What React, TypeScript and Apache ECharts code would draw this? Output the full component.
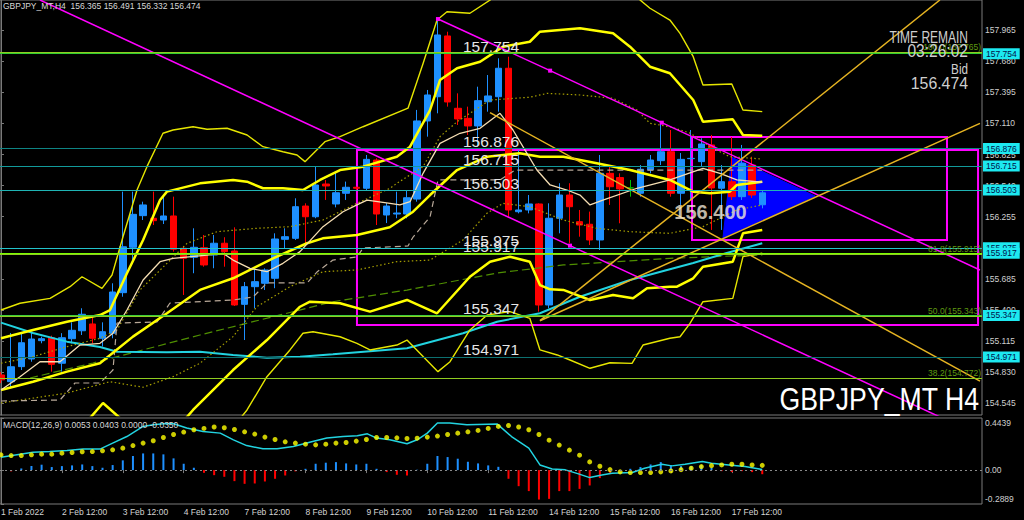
import { useEffect, useRef } from 'react';
import * as echarts from 'echarts';

// ---------------- DATA ----------------
const symbolName = 'GBPJPY_MT';
const timeframe = 'H4';

// H4 candles, bar 0 = 1 Feb 12:00 ... [open, close, low, high]
const candles: number[][] = [
  [154.805, 154.760, 154.730, 154.830],
  [154.743, 154.880, 154.694, 155.189],
  [154.881, 155.100, 154.850, 155.192],
  [154.951, 155.134, 154.926, 155.201],
  [155.119, 155.137, 155.095, 155.155],
  [155.146, 154.902, 154.835, 155.165],
  [154.912, 155.146, 154.835, 155.188],
  [155.137, 155.214, 155.095, 155.287],
  [155.210, 155.361, 155.171, 155.416],
  [155.272, 155.141, 155.095, 155.348],
  [155.141, 155.201, 155.065, 155.287],
  [155.187, 155.565, 155.141, 155.645],
  [155.559, 155.980, 155.522, 156.485],
  [155.975, 156.277, 155.858, 156.485],
  [156.265, 156.363, 156.225, 156.393],
  [156.241, 156.219, 156.179, 156.485],
  [156.225, 156.262, 156.188, 156.439],
  [156.262, 155.957, 155.935, 156.439],
  [155.966, 155.874, 155.538, 155.987],
  [155.883, 155.975, 155.737, 156.149],
  [155.971, 155.813, 155.797, 156.088],
  [155.904, 156.012, 155.783, 156.088],
  [156.012, 155.935, 155.797, 156.067],
  [155.941, 155.446, 155.437, 156.158],
  [155.452, 155.614, 155.125, 155.657],
  [155.614, 155.660, 155.416, 155.767],
  [155.645, 155.767, 155.584, 155.782],
  [155.691, 156.051, 155.600, 156.103],
  [156.048, 156.072, 155.966, 156.149],
  [156.057, 156.347, 156.042, 156.424],
  [156.353, 156.255, 156.012, 156.378],
  [156.255, 156.546, 156.241, 156.714],
  [156.555, 156.537, 156.409, 156.592],
  [156.372, 156.475, 156.341, 156.668],
  [156.470, 156.525, 156.409, 156.577],
  [156.525, 156.516, 156.500, 156.530],
  [156.516, 156.781, 156.500, 156.821],
  [156.775, 156.280, 156.179, 156.791],
  [156.271, 156.353, 156.197, 156.380],
  [156.280, 156.289, 156.241, 156.485],
  [156.280, 156.429, 156.241, 156.500],
  [156.417, 157.133, 156.393, 157.234],
  [157.133, 157.371, 156.989, 157.417],
  [157.355, 157.921, 157.203, 158.065],
  [157.912, 157.307, 157.264, 157.951],
  [157.249, 157.151, 157.096, 157.386],
  [157.157, 157.087, 157.004, 157.264],
  [157.087, 157.319, 156.897, 157.447],
  [157.309, 157.362, 157.218, 157.554],
  [157.355, 157.616, 157.218, 157.707],
  [157.616, 156.317, 156.255, 157.722],
  [156.301, 156.317, 156.286, 156.867],
  [156.317, 156.372, 156.286, 156.454],
  [156.372, 155.446, 155.385, 156.378],
  [155.446, 156.241, 155.416, 156.378],
  [156.241, 156.454, 156.103, 156.562],
  [156.454, 156.347, 156.012, 156.562],
  [156.210, 156.179, 156.072, 156.317],
  [156.186, 156.042, 155.996, 156.302],
  [156.042, 156.653, 155.950, 156.821],
  [156.653, 156.530, 156.363, 156.714],
  [156.614, 156.510, 156.195, 156.653],
  [156.519, 156.519, 156.439, 156.592],
  [156.470, 156.690, 156.439, 156.729],
  [156.684, 156.775, 156.653, 156.821],
  [156.769, 156.851, 156.729, 157.124],
  [156.851, 156.470, 156.439, 157.050],
  [156.470, 156.781, 156.363, 156.839],
  [156.787, 156.790, 156.409, 157.050],
  [156.760, 156.922, 156.714, 156.974],
  [156.913, 156.519, 156.134, 157.005],
  [156.516, 156.576, 156.134, 156.729],
  [156.576, 156.439, 156.409, 156.986],
  [156.439, 156.745, 156.409, 156.913],
  [156.729, 156.454, 156.427, 156.805],
  [156.365, 156.474, 156.332, 156.491],
];

// indicator lines: [bar, price]
const bbUpperThin = [[0, 155.400], [1.87, 155.462], [4.83, 155.507], [6.8, 155.614], [7.98, 155.705], [9.95, 155.599], [10.94, 155.721], [12.02, 156.072], [13.4, 156.500], [14.38, 156.714], [15.96, 157.020], [16.95, 157.050], [18.92, 157.080], [20.3, 157.057], [22.27, 157.066], [24.24, 157.004], [25.81, 156.897], [27.78, 156.851], [29.16, 156.821], [29.95, 156.760], [31.92, 156.943], [33.4, 156.989], [35.67, 157.080], [40.1, 157.250], [41.6, 157.664], [42.96, 158.058], [43.94, 158.134], [46.2, 158.120], [48.2, 158.242], [52.1, 158.608], [60, 158.608], [62.96, 158.242], [63.94, 158.166], [65.9, 158.058], [66.9, 157.936], [68.2, 157.722], [69.16, 157.463], [72, 157.472], [73.1, 157.233], [75, 157.218]];
const bbUpperThick = [[0, 155.141], [3.15, 155.217], [6.5, 155.293], [9.75, 155.354], [10.74, 155.400], [12.41, 155.737], [14, 156.042], [15.67, 156.408], [16.35, 156.485], [19.6, 156.561], [22.86, 156.592], [24.24, 156.576], [25.81, 156.516], [27.78, 156.516], [29.75, 156.500], [31.43, 156.592], [33.4, 156.683], [35.67, 156.714], [39, 156.805], [40.3, 156.897], [42.27, 157.233], [43.25, 157.508], [44.93, 157.616], [47.2, 157.676], [49.46, 157.814], [52.1, 157.859], [53.1, 157.951], [57.04, 157.982], [60.3, 157.936], [61.97, 157.814], [63.94, 157.630], [65.9, 157.570], [68.2, 157.325], [69.16, 157.126], [72.1, 157.148], [73.1, 157.004], [75, 156.998]];
const bbMiddle = [[0, 154.667], [3.15, 154.743], [6.5, 154.835], [9.75, 154.912], [13, 155.156], [16.35, 155.370], [19.6, 155.584], [22.86, 155.691], [26.8, 155.874], [30.15, 156.012], [31.7, 156.057], [35.07, 156.088], [38.3, 156.158], [40.6, 156.301], [42.27, 156.454], [44.93, 156.683], [47.9, 156.805], [51.1, 156.836], [53.1, 156.805], [55.4, 156.805], [58.7, 156.745], [61.97, 156.683], [65.9, 156.592], [68.2, 156.485], [69.85, 156.470], [71.8, 156.485], [72.5, 156.546], [75, 156.576]];
const bbLowerThick = [[0, 154.209], [8.77, 154.410], [10.05, 154.548], [11.72, 154.410], [17.64, 154.346], [18.92, 154.484], [22.86, 154.850], [26.2, 155.125], [29.46, 155.430], [30.44, 155.476], [33.4, 155.462], [36.35, 155.385], [40, 155.492], [42.96, 155.370], [46.2, 155.705], [48.18, 155.843], [50.15, 155.889], [52.1, 155.843], [53.1, 155.629], [54.1, 155.590], [55.4, 155.584], [58.03, 155.492], [60.3, 155.538], [62.27, 155.507], [63.65, 155.599], [65.9, 155.614], [66.6, 155.614], [68.2, 155.691], [69.16, 155.797], [72.1, 155.843], [73.1, 156.103], [75, 156.133]];
const bbLowerThin = [[0, 153.934], [19.6, 154.025], [23.05, 154.346], [24.24, 154.484], [26.2, 154.789], [28.47, 155.034], [29.75, 155.187], [30.74, 155.201], [33.4, 155.155], [35.07, 155.095], [36.35, 155.034], [39, 155.079], [40, 155.125], [43.05, 154.835], [44.24, 154.926], [46.2, 155.217], [47.9, 155.354], [50.15, 155.385], [52.1, 155.324], [53.1, 155.034], [54.8, 154.988], [56.06, 154.942], [58.03, 154.866], [60, 154.917], [62.17, 154.911], [63.25, 155.079], [65.9, 155.141], [66.9, 155.155], [67.88, 155.278], [69.16, 155.476], [72.1, 155.507], [73.1, 155.889], [75, 155.920]];
const maWheat = [[0, 154.667], [1.87, 154.789], [3.84, 154.926], [5.81, 154.926], [7.78, 155.079], [9.75, 155.095], [11.03, 155.187], [12.41, 155.400], [14, 155.675], [15.67, 155.843], [16.95, 155.874], [20.3, 155.904], [21.87, 155.920], [22.86, 155.858], [24.53, 155.782], [26.2, 155.751], [27.78, 155.828], [29.46, 155.935], [31.72, 156.164], [33.7, 156.301], [35.07, 156.363], [36.06, 156.408], [38.33, 156.378], [39.3, 156.363], [40.3, 156.393], [41.58, 156.653], [43.25, 156.928], [45.22, 157.020], [47.2, 157.066], [49.16, 157.203], [50.44, 157.050], [51.82, 156.836], [52.8, 156.683], [54.1, 156.546], [55.76, 156.500], [57.04, 156.454], [58.03, 156.363], [59.3, 156.408], [62.66, 156.516], [65.9, 156.592], [69.16, 156.699], [70.84, 156.653], [72.5, 156.592], [75, 156.571]];
const dottedUpper = [[0, 154.912], [3.15, 154.972], [6.5, 155.064], [9.75, 155.141], [11.43, 155.217], [13.7, 155.584], [16.35, 155.828], [18.33, 156.011], [21.28, 156.118], [25.2, 156.149], [28.47, 156.164], [31.72, 156.225], [35.07, 156.378], [38.33, 156.516], [39, 156.561], [41.58, 156.714], [43.25, 156.989], [44.93, 157.126], [48.18, 157.325], [52.1, 157.350], [53.8, 157.386], [57.04, 157.371], [60.3, 157.341], [62.66, 157.233], [63.94, 157.111], [65.9, 157.080], [67.88, 157.022], [69.85, 156.897], [71.8, 156.805], [75, 156.784]];
const dottedLower = [[0, 154.548], [6.5, 154.639], [10.74, 154.743], [14, 154.692], [16.95, 154.789], [19.6, 154.912], [22.86, 155.156], [25.2, 155.430], [28.47, 155.614], [31.72, 155.751], [35.07, 155.767], [39, 155.843], [42.27, 155.858], [45.52, 156.042], [47.88, 156.287], [49.46, 156.378], [52.1, 156.347], [55.4, 156.225], [58.7, 156.149], [61.97, 156.118], [65.9, 156.103], [69.16, 156.164], [70.84, 156.241], [72.5, 156.317], [75, 156.363]];
const kijunDashed = [[0, 154.566], [5.81, 154.575], [7.29, 154.731], [9.75, 154.731], [11.03, 154.850], [11.43, 155.281], [15.37, 155.290], [16.65, 155.464], [22.86, 155.492], [24.83, 155.519], [26.2, 155.648], [30.15, 155.648], [31.13, 155.748], [32.7, 155.858], [35.07, 155.886], [35.67, 155.968], [40.1, 155.987], [40.6, 156.069], [42.27, 156.253], [43.05, 156.592], [49.16, 156.592], [50.64, 156.683], [75, 156.683]];
const maCyan = [[0, 155.284], [3.15, 155.189], [6.5, 155.110], [9.75, 155.061], [11.43, 155.018], [16.35, 155.012], [19.6, 155.018], [22.86, 154.988], [26.2, 154.963], [29.46, 154.972], [32.7, 154.994], [40, 155.049], [45.52, 155.187], [48.87, 155.293], [53.1, 155.370], [57.04, 155.522], [61.97, 155.675], [65.9, 155.773], [68.2, 155.831], [71.5, 155.923], [75, 156.012]];
const maGreenDashed = [[2.86, 154.777], [9.06, 154.914], [19.6, 155.171], [32.7, 155.476], [40, 155.583], [48.87, 155.739], [55.4, 155.813], [65.9, 155.874], [72, 155.895], [75, 155.904]];

// trend lines & objects: [bar, price]
const trendM1 = [[3.84, 158.2416], [56.06, 155.990], [92.5, 154.420]];
const trendM1Handles = [false, true, false];
const trendM2 = [[43.05, 158.067], [54.1, 157.594], [65.1, 157.117], [96.45, 155.767]];
const trendM2Handles = [true, true, true, false];
const trendO1 = [[48.18, 157.209], [96.45, 154.749]];
const trendO2 = [[53.1, 155.302], [92.5, 158.2416]];
const trendO3 = [[53.1, 155.302], [96.45, 157.111]];
const triangle = [[72.0, 156.800], [80.2, 156.445], [71.13, 156.060]];
const rectA = [[35.07, 156.867], [96.26, 155.263]];
const rectB = [[68.08, 156.986], [93.2, 156.042]];
const textMarkValue = '156.400';
const textMarkAnchor = [69.9, 156.300];

// horizontal levels
const levelPrices = [157.754, 156.876, 156.715, 156.503, 155.975, 155.917, 155.347, 154.971];
const fibLevels = [100.0, 61.8, 50.0, 38.2];
const fibPrices = [157.765, 155.915, 155.343, 154.772];

// axes
const priceTicks = [154.545, 154.830, 155.115, 155.400, 155.685, 155.970, 156.255, 156.540, 156.825, 157.110, 157.395, 157.680, 157.965];
const dateTickBars = [0, 6, 12, 18, 24, 30, 36, 42, 48, 54, 60, 66, 72];
const dateTickLabels = ['1 Feb 2022', '2 Feb 12:00', '3 Feb 12:00', '4 Feb 12:00', '7 Feb 12:00', '8 Feb 12:00', '9 Feb 12:00', '10 Feb 12:00', '11 Feb 12:00', '14 Feb 12:00', '15 Feb 12:00', '16 Feb 12:00', '17 Feb 12:00'];
const macdTicks = [0.4439, 0, -0.2889];
const macdTickLabels = ['0.4439', '0.00', '-0.2889'];

// MACD
const macdHist = [0, -0.011, 0.014, 0.034, 0.046, 0.026, 0.034, 0.040, 0.048, 0.034,
  0.020, 0.043, 0.083, 0.120, 0.142, 0.142, 0.134, 0.100, 0.054, 0.020,
  -0.023, -0.043, -0.057, -0.094, -0.117, -0.114, -0.097, -0.074, -0.046, -0.011,
  0.011, 0.054, 0.063, 0.068, 0.057, 0.048, 0.054, 0.011, -0.017, -0.040,
  -0.046, 0.003, 0.054, 0.120, 0.111, 0.097, 0.071, 0.057, 0.040, 0.028,
  -0.074, -0.137, -0.179, -0.251, -0.245, -0.179, -0.179, -0.160, -0.131, -0.068,
  -0.023, -0.009, 0.011, 0.026, 0.048, 0.068, 0.043, 0.034, 0.034, 0.043,
  0.020, -0.009, -0.017, -0.009, -0.017, -0.035];
const macdSignal = [0.130, 0.124, 0.124, 0.130, 0.136, 0.136, 0.144, 0.150, 0.156, 0.158,
  0.164, 0.173, 0.187, 0.209, 0.230, 0.250, 0.278, 0.303, 0.324, 0.344,
  0.355, 0.367, 0.361, 0.346, 0.326, 0.307, 0.281, 0.261, 0.241, 0.230,
  0.221, 0.215, 0.221, 0.230, 0.235, 0.247, 0.261, 0.278, 0.278, 0.275,
  0.269, 0.272, 0.281, 0.290, 0.303, 0.315, 0.326, 0.338, 0.355, 0.372,
  0.380, 0.367, 0.344, 0.303, 0.255, 0.213, 0.170, 0.127, 0.070, 0.033,
  0.004, -0.015, -0.021, -0.021, -0.021, -0.015, -0.007, 0.004, 0.016, 0.030,
  0.038, 0.044, 0.050, 0.050, 0.044, 0.0403];
const macdMain = [[0, 0.110], [3.15, 0.153], [4.8, 0.158], [6.5, 0.167], [8.1, 0.179], [9.75, 0.179], [11, 0.230], [12.4, 0.286], [14, 0.372], [15, 0.386], [16, 0.395], [17, 0.395], [18.3, 0.358], [19.9, 0.329], [21.6, 0.315], [22.9, 0.258], [24.2, 0.209], [25.8, 0.181], [27.2, 0.181], [28.8, 0.201], [30.7, 0.244], [32.1, 0.273], [33.7, 0.286], [35.1, 0.292], [36.1, 0.309], [37, 0.273], [38.3, 0.258], [40, 0.224], [41, 0.258], [42, 0.315], [43, 0.401], [44.2, 0.401], [45.9, 0.386], [48.9, 0.392], [50.3, 0.286], [52, 0.187], [53.1, 0.044], [54.3, 0.010], [55.6, 0.002], [56.9, -0.032], [58, -0.064], [59.2, -0.041], [60.2, -0.026], [62.2, -0.021], [63.4, 0.016], [65.1, 0.050], [66.1, 0.036], [67.4, 0.050], [69.1, 0.073], [70, 0.059], [71.7, 0.044], [73.3, 0.030], [75, 0.005]];
const macdHeaderValues = ['0.0053', '0.0403', '0.0000', '-0.0350'];
const timeRemain = '03:26:02';

// ---------------- STYLE / LAYOUT ----------------
const X_MIN = -0.0985;
const X_MAX = 96.65;
const Y_MIN = 154.4377;
const Y_MAX = 158.2416;
const FONT = "'Liberation Sans', Arial, sans-serif";
const levelColors = ['#32cd32', '#0e8484', '#129a9a', '#1fb4b4', '#22c4cc', '#7cfc00', '#3ccd3c', '#0c7070'];
const GRAY = '#7a7a7a';

function lineS(data: number[][], color: string, width: number, type: any = 'solid', z = 3) {
  return {
    type: 'line', xAxisIndex: 0, yAxisIndex: 0, data, symbol: 'none', showSymbol: false,
    smooth: false, silent: true, z, lineStyle: { color, width, type }, animation: false,
  };
}

function handleLine(data: number[][], handles: boolean[], color: string) {
  return {
    type: 'line', xAxisIndex: 0, yAxisIndex: 0, silent: true, z: 4, animation: false,
    data: data.map((d, i) => ({ value: d, symbol: handles[i] ? 'rect' : 'none', symbolSize: 4 })),
    lineStyle: { color, width: 1.5 }, itemStyle: { color },
  };
}

function buildOption(): any {
  const last = candles[candles.length - 1];
  const header = `${symbolName},${timeframe}  ${last[0].toFixed(3)} ${last[3].toFixed(3)} ${last[2].toFixed(3)} ${last[1].toFixed(3)}`;

  const levelLines = levelPrices.map((p, i) => ({
    yAxis: p,
    lineStyle: { color: levelColors[i], width: 1.2, type: 'solid' },
    label: {
      show: true, position: 'insideMiddleTop', formatter: p.toFixed(3), distance: -1,
      color: '#e6e6e6', fontSize: 15.5, fontFamily: FONT,
    },
  }));
  const levelTags = levelPrices.map((p) => ({
    yAxis: p,
    lineStyle: { color: 'rgba(0,0,0,0)', width: 0 },
    label: {
      show: true, position: 'end', formatter: p.toFixed(3), distance: 1,
      backgroundColor: '#1de9f0', color: '#00124a', fontSize: 8.5, fontFamily: FONT,
      padding: [1, 3, 1, 3],
    },
  }));
  const fibLines = fibPrices.map((p, i) => ({
    yAxis: p,
    lineStyle: { color: '#8fcc20', width: 1.2, type: 'solid' },
    label: {
      show: true, position: 'insideEndTop', formatter: `${fibLevels[i].toFixed(1)}(${p.toFixed(3)})`,
      distance: 1, color: '#5f9a10', fontSize: 8.5, fontFamily: FONT,
    },
  }));

  return {
    animation: false,
    backgroundColor: '#000000',
    grid: [
      { left: 0, right: 42, top: 0, height: 415, show: true, borderColor: GRAY, borderWidth: 1, backgroundColor: 'transparent', containLabel: false, outerBoundsMode: 'none' },
      { left: 0, right: 42, top: 418, height: 86, show: true, borderColor: GRAY, borderWidth: 1, backgroundColor: 'transparent', containLabel: false, outerBoundsMode: 'none' },
    ],
    xAxis: [
      { type: 'value', gridIndex: 0, min: X_MIN, max: X_MAX, show: false },
      {
        type: 'value', gridIndex: 1, min: X_MIN, max: X_MAX,
        axisLine: { show: false }, splitLine: { show: false },
        axisTick: { show: true, customValues: dateTickBars, length: 3, lineStyle: { color: GRAY } },
        axisLabel: {
          show: true, customValues: dateTickBars, align: 'left', margin: 3,
          color: '#d4d4d4', fontSize: 8.5, fontFamily: FONT,
          formatter: (v: number) => {
            const i = dateTickBars.findIndex((b) => Math.abs(b - v) < 1e-6);
            return i >= 0 ? dateTickLabels[i] : '';
          },
        },
      },
    ],
    yAxis: [
      {
        type: 'value', gridIndex: 0, position: 'right', min: Y_MIN, max: Y_MAX, scale: true,
        splitLine: { show: false },
        axisLine: { show: true, lineStyle: { color: GRAY } },
        axisTick: { show: true, customValues: priceTicks, length: 3, lineStyle: { color: GRAY } },
        axisLabel: {
          show: true, customValues: priceTicks, margin: 3, color: '#cfcfcf', fontSize: 8.5, fontFamily: FONT,
          formatter: (v: number) => v.toFixed(3),
        },
      },
      {
        type: 'value', gridIndex: 1, position: 'right', min: -0.2889, max: 0.4439, scale: true,
        splitLine: { show: false },
        axisLine: { show: true, lineStyle: { color: GRAY } },
        axisTick: { show: true, customValues: macdTicks, length: 3, lineStyle: { color: GRAY } },
        axisLabel: {
          show: true, customValues: macdTicks, margin: 3,
          formatter: (v: number) => {
            const i = macdTicks.findIndex((t) => Math.abs(t - v) < 1e-6);
            if (i < 0) return '';
            const tag = i === 0 ? 't' : i === 2 ? 'b' : 'm';
            return `{${tag}|${macdTickLabels[i]}}`;
          },
          rich: {
            t: { color: '#cfcfcf', fontSize: 8.5, fontFamily: FONT, padding: [10, 0, 0, 0] },
            m: { color: '#cfcfcf', fontSize: 8.5, fontFamily: FONT },
            b: { color: '#cfcfcf', fontSize: 8.5, fontFamily: FONT, padding: [0, 0, 10, 0] },
          },
        },
      },
    ],
    series: [
      {
        type: 'custom', xAxisIndex: 0, yAxisIndex: 0, z: 1, silent: true,
        data: [triangle[0]],
        renderItem: (_p: any, api: any) => ({
          type: 'polygon',
          shape: { points: triangle.map((pt) => api.coord(pt)) },
          style: { fill: '#0000ff', stroke: '#0000ff' },
        }),
      },
      {
        type: 'candlestick', xAxisIndex: 0, yAxisIndex: 0, z: 2, silent: true, barWidth: 7,
        data: candles.map((c, i) => [i, c[0], c[1], c[2], c[3]]),
        itemStyle: {
          color: '#1e90ff', color0: '#ff0000', borderColor: '#1e90ff', borderColor0: '#ff0000',
          borderColorDoji: '#00c000', borderWidth: 1,
        },
      },
      lineS(maGreenDashed, '#4f8f00', 1.2, [8, 4]),
      lineS(maCyan, '#22d3e0', 2),
      lineS(dottedLower, '#a8a000', 1.2, [1.5, 2.5]),
      lineS(dottedUpper, '#a8a000', 1.2, [1.5, 2.5]),
      lineS(kijunDashed, '#b8a898', 1.2, [6, 4]),
      lineS(bbUpperThin, '#e6e600', 1.4),
      lineS(bbLowerThin, '#e6e600', 1.4),
      lineS(bbUpperThick, '#ffff00', 2.5),
      lineS(bbLowerThick, '#ffff00', 2.5),
      lineS(bbMiddle, '#ffff00', 2.5),
      lineS(maWheat, '#f5deb3', 1.3),
      handleLine(trendM1, trendM1Handles, '#ff00ff'),
      handleLine(trendM2, trendM2Handles, '#ff00ff'),
      lineS(trendO1, '#e6b422', 1.5, 'solid', 4),
      lineS(trendO2, '#e6b422', 1.5, 'solid', 4),
      lineS(trendO3, '#e6b422', 1.5, 'solid', 4),
      {
        type: 'line', xAxisIndex: 0, yAxisIndex: 0, data: [], z: 5, silent: true, clip: false,
        markArea: {
          silent: true,
          itemStyle: { color: 'rgba(0,0,0,0)', borderColor: '#ff00ff', borderWidth: 2 },
          data: [
            [{ xAxis: rectA[0][0], yAxis: rectA[0][1] }, { xAxis: rectA[1][0], yAxis: rectA[1][1] }],
            [{ xAxis: rectB[0][0], yAxis: rectB[0][1] }, { xAxis: rectB[1][0], yAxis: rectB[1][1] }],
          ],
        },
        markLine: {
          silent: true, symbol: ['none', 'none'], animation: false,
          data: [...fibLines, ...levelLines],
        },
      },
      {
        type: 'line', xAxisIndex: 0, yAxisIndex: 0, data: [], z: 6, silent: true, clip: false,
        markLine: {
          silent: true, symbol: ['none', 'none'], animation: false,
          data: levelTags,
        },
      },
      {
        type: 'scatter', xAxisIndex: 0, yAxisIndex: 0, z: 6, silent: true,
        data: [textMarkAnchor], symbolSize: 1, itemStyle: { color: 'rgba(0,0,0,0)' },
        label: {
          show: true, position: 'inside', formatter: textMarkValue,
          color: '#f3ead8', fontSize: 20, fontWeight: 'bold', fontFamily: FONT,
        },
      },
      {
        type: 'bar', xAxisIndex: 1, yAxisIndex: 1, barWidth: 2, silent: true, z: 2,
        data: macdHist.map((v, i) => ({ value: [i, v], itemStyle: { color: v >= 0 ? '#1e90ff' : '#ff0000' } })),
        markLine: {
          silent: true, symbol: ['none', 'none'], label: { show: false },
          lineStyle: { color: '#8a8a8a', type: [2, 3], width: 1 },
          data: [{ yAxis: 0 }],
        },
      },
      {
        type: 'line', xAxisIndex: 1, yAxisIndex: 1, data: macdMain, symbol: 'none', silent: true, z: 3,
        lineStyle: { color: '#22d3e0', width: 1.5 },
      },
      {
        type: 'scatter', xAxisIndex: 1, yAxisIndex: 1, silent: true, z: 4,
        data: macdSignal.map((v, i) => [i, v]), symbolSize: 5, itemStyle: { color: '#ffff00' },
      },
    ],
    graphic: [
      { type: 'text', x: 3, y: 6, z: 100, style: { text: header, fill: '#d8d8d8', fontSize: 8.5, fontFamily: FONT, verticalAlign: 'middle' } },
      { type: 'text', x: 3, y: 425, z: 100, style: { text: `MACD(12,26,9) ${macdHeaderValues.join(' ')}`, fill: '#d8d8d8', fontSize: 8.5, fontFamily: FONT, verticalAlign: 'middle' } },
      { type: 'text', x: 968, y: 37.5, z: 100, scaleX: 0.75, style: { text: 'TIME REMAIN', fill: '#cfcfcf', fontSize: 16, fontFamily: FONT, align: 'right', verticalAlign: 'middle' } },
      { type: 'text', x: 968, y: 50.5, z: 100, scaleX: 0.82, style: { text: timeRemain, fill: '#cfcfcf', fontSize: 19, fontFamily: FONT, align: 'right', verticalAlign: 'middle' } },
      { type: 'text', x: 968, y: 69, z: 100, scaleX: 0.78, style: { text: 'Bid', fill: '#cfcfcf', fontSize: 15, fontFamily: FONT, align: 'right', verticalAlign: 'middle' } },
      { type: 'text', x: 968, y: 83, z: 100, scaleX: 0.96, style: { text: last[1].toFixed(3), fill: '#cfcfcf', fontSize: 16.5, fontFamily: FONT, align: 'right', verticalAlign: 'middle' } },
      { type: 'text', x: 979, y: 399, z: 100, scaleX: 0.86, style: { text: `${symbolName} ${timeframe}`, fill: '#ffffff', fontSize: 31, fontFamily: FONT, align: 'right', verticalAlign: 'middle' } },
    ],
  };
}

export default function App() {
  const ref = useRef<HTMLDivElement>(null);
  useEffect(() => {
    if (!ref.current) return;
    const chart = echarts.init(ref.current, null, { renderer: 'svg' });
    chart.setOption(buildOption());
    return () => chart.dispose();
  }, []);
  return (
    <div
      ref={ref}
      style={{ position: 'fixed', left: 0, top: 0, width: 1024, height: 520, background: '#000' }}
    />
  );
}
